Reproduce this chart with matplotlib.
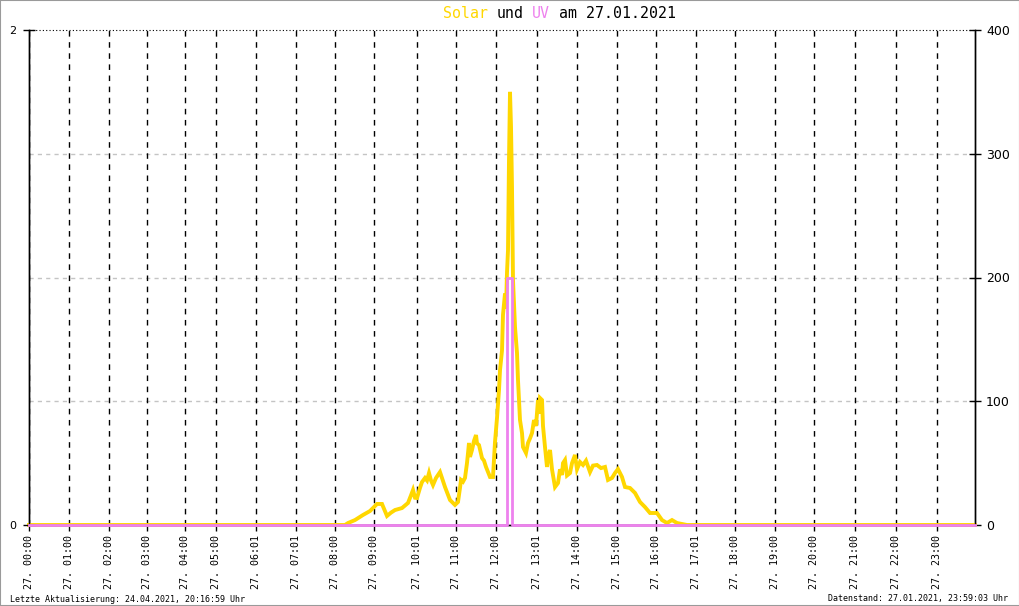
import matplotlib
matplotlib.use('Agg')
import matplotlib.pyplot as plt
from matplotlib.patches import Rectangle

# x axis is the sample position along the day (0 .. 946)
tick_pos = [0, 40, 80, 118, 156, 187, 227, 267, 306, 345, 388, 427,
            467, 508, 548, 588, 627, 667, 706, 746, 785, 826, 867, 908]
tick_labels = ['27. 00:00', '27. 01:00', '27. 02:00', '27. 03:00', '27. 04:00',
               '27. 05:00', '27. 06:01', '27. 07:01', '27. 08:00', '27. 09:00',
               '27. 10:01', '27. 11:00', '27. 12:00', '27. 13:01', '27. 14:00',
               '27. 15:00', '27. 16:00', '27. 17:01', '27. 18:00', '27. 19:00',
               '27. 20:00', '27. 21:00', '27. 22:00', '27. 23:00']

# Solar (right axis, W/m2)
solar_x = [0, 316, 319, 326, 334, 341, 344, 348, 353, 358,
           362, 366, 373, 379, 382, 384, 386, 388, 391, 393,
           396, 398, 400, 402, 404, 407, 411, 413, 416, 421,
           426, 429, 431, 432, 434, 436, 438, 439, 440, 441,
           443, 445, 447, 448, 450, 453, 455, 457, 461, 464,
           466, 468, 470, 471, 473, 474, 476, 477, 478, 479,
           480, 481, 482, 483, 484, 486, 488, 489, 491, 493,
           494, 497, 499, 501, 503, 505, 507, 509, 510, 511,
           513, 514, 516, 518, 519, 521, 523, 526, 529, 531,
           533, 534, 536, 538, 541, 543, 546, 548, 551, 554,
           557, 561, 564, 568, 572, 576, 579, 583, 586, 589,
           593, 596, 601, 606, 611, 616, 621, 628, 633, 638,
           643, 648, 658, 946]
solar = [0, 0, 1.6, 4, 8.1, 11.3, 13.7, 17, 17, 7.3,
         10, 12.1, 13.7, 17.8, 24, 28.3, 22, 21.8, 30, 34.7,
         38, 36, 42, 36, 32.3, 38, 42.8, 38, 30.7, 20.2,
         16.2, 18.6, 30, 36.4, 35, 38, 50.1, 58, 66.3, 55,
         60.6, 68, 72.7, 66, 64.6, 54.1, 52, 46.9, 38.8, 38.8,
         67, 86.5, 109, 125, 141, 170, 187, 175, 204, 222,
         295, 350, 322, 273, 198, 160, 139, 117, 84.8, 74.3,
         63, 58.2, 66.3, 70, 74.3, 84.8, 80, 101, 90, 102.6,
         101, 80, 63, 46.9, 55, 60.6, 45, 30.7, 33.9, 45,
         40.4, 50, 52.5, 40, 42, 50, 56.6, 45, 50.9, 48.5,
         52, 42.8, 48, 48.5, 46, 46.9, 36.4, 38, 42, 45.2,
         38.8, 30.7, 29.9, 25.9, 18.6, 14.5, 9.7, 9.7, 4, 1.6,
         4, 1.6, 0, 0]

# UV index (left axis)
uv_x = [0, 478, 478, 483, 483, 946]
uv = [0, 0, 1, 1, 0, 0]

fig = plt.figure(figsize=(10.2, 6.06), dpi=100)
fig.patches.append(Rectangle((0, 0), 1, 1, transform=fig.transFigure,
                             fill=False, edgecolor='#9a9a9a', lw=1.5))

ax = fig.add_axes([29 / 1020, 1 - 525 / 606, 946 / 1020, 495 / 606])
ax_uv = ax.twinx()

ax.plot(solar_x, solar, color='#FFD700', lw=2.8,
        solid_joinstyle='miter', zorder=3, clip_on=False)
ax_uv.plot(uv_x, uv, color='#EE82EE', lw=2.0, zorder=3, clip_on=False)

ax.set_xlim(0, 946)
ax.set_ylim(0, 400)
ax_uv.set_ylim(0, 2)

ax.set_xticks(tick_pos)
ax.set_xticklabels(tick_labels, rotation=90, family='DejaVu Sans Mono',
                   fontsize=7.2)
ax.tick_params(axis='x', direction='out', length=4, width=1, pad=3)
ax.grid(axis='x', color='black', ls=(0, (4, 4)), lw=1)
for lev in [100, 200, 300]:
    ax.axhline(lev, color='#c4c4c4', ls=(0, (3, 3)), lw=1, zorder=1)
ax.axhline(400, color='black', ls=(0, (1, 2)), lw=0.8, clip_on=False)

ax.yaxis.tick_right()
ax.set_yticks([0, 100, 200, 300, 400])
ax.tick_params(axis='y', direction='inout', length=8, width=1, pad=4,
               labelsize=9)
ax_uv.yaxis.tick_left()
ax_uv.set_yticks([0, 2])
ax_uv.tick_params(axis='y', direction='inout', length=8, width=1, pad=5,
                  labelsize=8)

for a in (ax, ax_uv):
    a.spines['top'].set_visible(False)
    for s in ('left', 'right', 'bottom'):
        a.spines[s].set_linewidth(1)

# title in coloured pieces (monospace)
cw = 8.92 / 1020
x0 = 443 / 1020
ty = 1 - 14 / 606
for off, txt, col in [(0, 'Solar', '#FFD700'), (6, 'und', 'black'),
                      (10, 'UV', '#EE82EE'), (13, 'am 27.01.2021', 'black')]:
    fig.text(x0 + off * cw, ty, txt, color=col, family='DejaVu Sans Mono',
             fontsize=10.7, va='center', ha='left')

fig.text(10 / 1020, 1 - 599 / 606,
         'Letzte Aktualisierung: 24.04.2021, 20:16:59 Uhr',
         family='DejaVu Sans Mono', fontsize=6, va='center', ha='left')
fig.text(1008 / 1020, 1 - 599 / 606,
         'Datenstand: 27.01.2021, 23:59:03 Uhr',
         family='DejaVu Sans Mono', fontsize=6, va='center', ha='right')

fig.savefig('out.png', dpi=100, facecolor='white')
